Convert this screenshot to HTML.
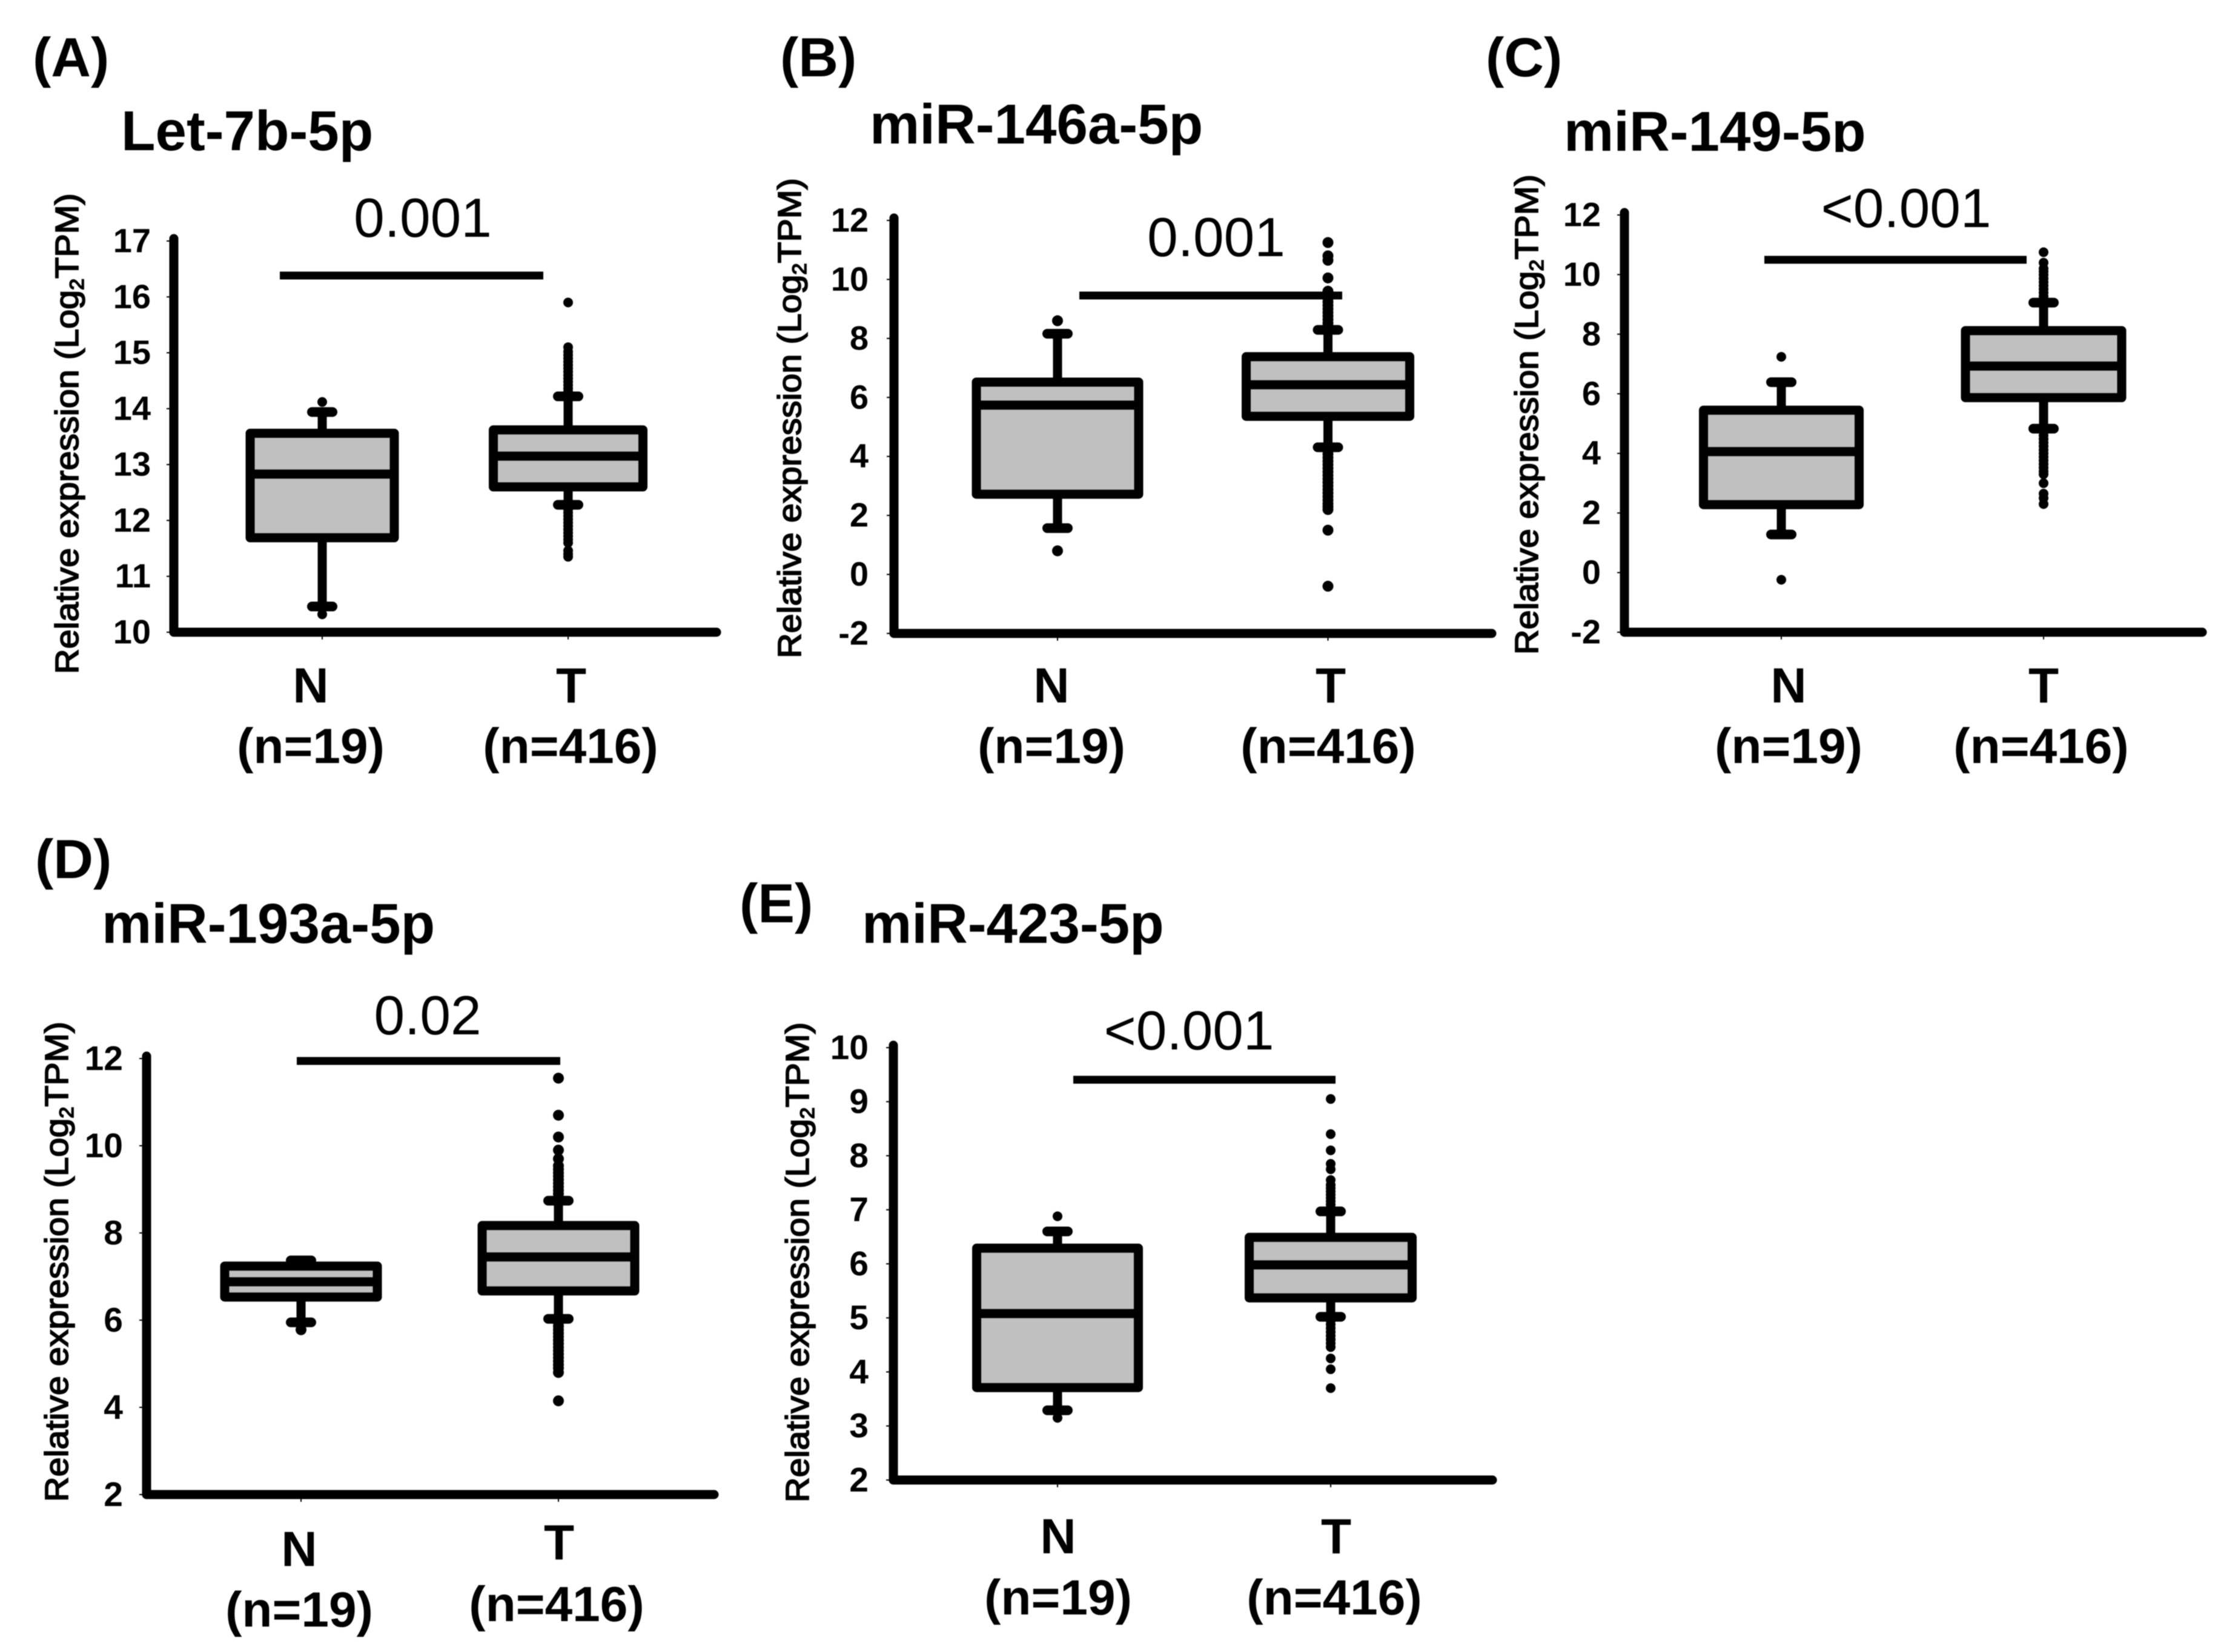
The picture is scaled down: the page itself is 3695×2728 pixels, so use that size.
<!DOCTYPE html>
<html lang="en">
<head>
<meta charset="utf-8">
<title>miRNA relative expression box plots</title>
<style>
html,body{margin:0;padding:0;background:#fff;}
body{width:3695px;height:2728px;overflow:hidden;}
svg{display:block;filter:blur(0.7px);}
text{font-family:"Liberation Sans",Arial,sans-serif;fill:#000;}
.head{font-weight:700;font-size:91px;}
.title{font-weight:700;font-size:92.5px;}
.cat{font-weight:700;font-size:82px;text-anchor:middle;}
.pval{font-size:91px;text-anchor:middle;}
.ylab{stroke:#000;stroke-width:1.8px;font-size:54px;}
</style>
</head>
<body>
<svg id="figure" xmlns="http://www.w3.org/2000/svg" width="3695" height="2728" viewBox="0 0 3695 2728">
<rect width="3695" height="2728" fill="#fff"/>

<g id="panel-a">
<text class="head" x="54" y="126">(A)</text>
<text class="title" x="200" y="248">Let-7b-5p</text>
<text class="ylab" transform="translate(129,1113) rotate(-90) scale(1.067,1)">Relative expression (Log<tspan font-size="32" dy="9">2</tspan><tspan dy="-9">TPM)</tspan></text>
<text class="pval" x="698" y="391">0.001</text>
<text class="cat" x="513" y="1160">N</text>
<text class="cat" x="513" y="1260">(n=19)</text>
<text class="cat" x="943" y="1160">T</text>
<text class="cat" x="942" y="1260">(n=416)</text>
</g>

<g id="panel-b">
<text class="head" x="1288" y="126">(B)</text>
<text class="title" x="1436" y="237">miR-146a-5p</text>
<text class="ylab" transform="translate(1322,1087) rotate(-90) scale(1.066,1)">Relative expression (Log<tspan font-size="32" dy="9">2</tspan><tspan dy="-9">TPM)</tspan></text>
<text class="pval" x="2008" y="423">0.001</text>
<text class="cat" x="1736" y="1160">N</text>
<text class="cat" x="1736" y="1260">(n=19)</text>
<text class="cat" x="2197" y="1160">T</text>
<text class="cat" x="2193" y="1260">(n=416)</text>
</g>

<g id="panel-c">
<text class="head" x="2453" y="126">(C)</text>
<text class="title" x="2582" y="249">miR-149-5p</text>
<rect x="2570" y="251" width="600" height="40" fill="#fff"/>
<text class="ylab" transform="translate(2539,1081) rotate(-90) scale(1.066,1)">Relative expression (Log<tspan font-size="32" dy="9">2</tspan><tspan dy="-9">TPM)</tspan></text>
<text class="pval" x="3147" y="375">&lt;0.001</text>
<text class="cat" x="2953" y="1160">N</text>
<text class="cat" x="2953" y="1260">(n=19)</text>
<text class="cat" x="3374" y="1160">T</text>
<text class="cat" x="3370" y="1260">(n=416)</text>
</g>

<g id="panel-d">
<text class="head" x="58" y="1450">(D)</text>
<text class="title" x="168" y="1557">miR-193a-5p</text>
<text class="ylab" transform="translate(112,2480) rotate(-90) scale(1.066,1)">Relative expression (Log<tspan font-size="32" dy="9">2</tspan><tspan dy="-9">TPM)</tspan></text>
<text class="pval" x="706" y="1708">0.02</text>
<text class="cat" x="494" y="2586">N</text>
<text class="cat" x="494" y="2686">(n=19)</text>
<text class="cat" x="923" y="2575">T</text>
<text class="cat" x="919" y="2677">(n=416)</text>
</g>

<g id="panel-e">
<text class="head" x="1221" y="1523">(E)</text>
<text class="title" x="1423" y="1557">miR-423-5p</text>
<text class="ylab" transform="translate(1335,2481) rotate(-90) scale(1.066,1)">Relative expression (Log<tspan font-size="32" dy="9">2</tspan><tspan dy="-9">TPM)</tspan></text>
<text class="pval" x="1963" y="1733">&lt;0.001</text>
<text class="cat" x="1747" y="2565">N</text>
<text class="cat" x="1747" y="2666">(n=19)</text>
<text class="cat" x="2206" y="2565">T</text>
<text class="cat" x="2203" y="2666">(n=416)</text>
</g>
</svg>

<script>
// Data: order within two-element arrays is [N, T]
const categories = ['N', 'T'];

const ticksA = [10, 11, 12, 13, 14, 15, 16, 17];
const q1A = [11.69, 12.6];
const medianA = [12.83, 13.15];
const q3A = [13.56, 13.62];
const whiskerLowA = [10.46, 12.28];
const whiskerHighA = [13.94, 14.22];
const outliersNA = [14.12, 10.32];
const outliersTA = [14.3, 14.36, 14.42, 14.48, 14.54, 14.6, 14.66, 14.72, 14.78, 14.84, 14.9, 14.96, 15.02, 15.1, 15.9, 12.2, 12.14, 12.08, 12.02, 11.96, 11.9, 11.84, 11.78, 11.72, 11.66, 11.6, 11.46, 11.4, 11.35];

const ticksB = [-2, 0, 2, 4, 6, 8, 10, 12];
const q1B = [2.72, 5.36];
const medianB = [5.74, 6.43];
const q3B = [6.52, 7.38];
const whiskerLowB = [1.57, 4.31];
const whiskerHighB = [8.16, 8.29];
const outliersNB = [8.6, 0.8];
const outliersTB = [8.4, 8.52, 8.64, 8.76, 8.88, 9.0, 9.12, 9.24, 9.36, 9.48, 9.6, 10.05, 10.65, 10.8, 11.25, 4.2, 4.08, 3.96, 3.84, 3.72, 3.6, 3.48, 3.36, 3.24, 3.12, 3.0, 2.88, 2.76, 2.64, 2.52, 2.4, 2.3, 2.2, 1.5, -0.4];

const ticksC = [-2, 0, 2, 4, 6, 8, 10, 12];
const q1C = [2.28, 5.87];
const medianC = [4.06, 6.93];
const q3C = [5.45, 8.12];
const whiskerLowC = [1.28, 4.83];
const whiskerHighC = [6.39, 9.06];
const outliersNC = [7.24, -0.24];
const outliersTC = [9.15, 9.27, 9.39, 9.51, 9.63, 9.75, 9.87, 9.99, 10.1, 10.2, 10.4, 10.75, 4.72, 4.6, 4.48, 4.36, 4.24, 4.12, 4.0, 3.88, 3.76, 3.64, 3.52, 3.4, 3.3, 3.0, 2.65, 2.5, 2.3];

const ticksD = [2, 4, 6, 8, 10, 12];
const q1D = [6.53, 6.67];
const medianD = [6.88, 7.45];
const q3D = [7.24, 8.17];
const whiskerLowD = [5.95, 6.03];
const whiskerHighD = [7.37, 8.74];
const outliersND = [5.78];
const outliersTD = [8.82, 8.9, 8.98, 9.06, 9.14, 9.22, 9.3, 9.38, 9.46, 9.54, 9.7, 9.9, 10.2, 10.7, 11.55, 5.94, 5.86, 5.78, 5.7, 5.62, 5.54, 5.46, 5.38, 5.3, 5.22, 5.14, 5.06, 4.98, 4.9, 4.8, 4.15];

const ticksE = [2, 3, 4, 5, 6, 7, 8, 9, 10];
const q1E = [3.71, 5.37];
const medianE = [5.08, 5.98];
const q3E = [6.29, 6.49];
const whiskerLowE = [3.29, 5.02];
const whiskerHighE = [6.6, 6.97];
const outliersNE = [6.88, 3.15];
const outliersTE = [7.04, 7.1, 7.16, 7.22, 7.28, 7.34, 7.4, 7.46, 7.55, 7.75, 7.85, 8.1, 8.4, 9.05, 4.95, 4.88, 4.81, 4.74, 4.67, 4.6, 4.53, 4.46, 4.25, 4.05, 3.7];

const NS = 'http://www.w3.org/2000/svg';

function make(parent, tag, attrs) {
  const el = document.createElementNS(NS, tag);
  for (const k in attrs) el.setAttribute(k, attrs[k]);
  parent.appendChild(el);
  return el;
}

function drawPanel(p, data) {
  const group = document.getElementById(p.id);
  const yMin = data.ticks[0];
  const yMax = data.ticks[data.ticks.length - 1];
  const yScale = v => p.bottom - (v - yMin) / (yMax - yMin) * (p.bottom - p.top);
  const xScale = i => p.catX[i];

  // y axis line
  const yAxis = make(group, 'line', {x1: p.axisX, x2: p.axisX, y1: p.top - 4, y2: p.bottom, stroke: '#000', 'stroke-width': 15, 'stroke-linecap': 'round'});
  
  

  // x axis line
  const xAxis = make(group, 'line', {x1: p.axisX, x2: p.right - 5, y1: p.bottom, y2: p.bottom, stroke: '#000', 'stroke-width': 15, 'stroke-linecap': 'round'});
  
  

  // y ticks and labels
  data.ticks.forEach(t => {
    const mark = make(group, 'line', {x1: p.axisX - 12, x2: p.axisX, y1: yScale(t), y2: yScale(t), stroke: '#000', 'stroke-width': 2});
    
    
    const label = make(group, 'text', {x: p.tickRight + 2, y: yScale(t) + p.tickFont * 0.33, 'text-anchor': 'end', 'font-weight': 700, 'font-size': p.tickFont});
    label.textContent = t;
    
    
  });

  // significance bar
  const sig = make(group, 'line', {x1: p.sig[0], x2: p.sig[1], y1: p.sig[2], y2: p.sig[2], stroke: '#000', 'stroke-width': 13});
  
  

  categories.forEach((cat, i) => {
    const cx = xScale(i);
    const name = cat.toLowerCase();

    const xTick = make(group, 'line', {x1: cx, x2: cx, y1: p.bottom, y2: p.bottom + 12, stroke: '#000', 'stroke-width': 2});
    
    

    // outliers first so that whiskers and box sit on top
    const outliers = i === 0 ? data.outliersN : data.outliersT;
    outliers.forEach(v => {
      const dot = make(group, 'circle', {cx: cx, cy: yScale(v), r: p.dot, fill: '#000'});
      
      
    });

    const whisker = make(group, 'line', {x1: cx, x2: cx, y1: yScale(data.whiskerLow[i]), y2: yScale(data.whiskerHigh[i]), stroke: '#000', 'stroke-width': 15});
    
    

    const capHigh = make(group, 'line', {x1: cx - 17, x2: cx + 17, y1: yScale(data.whiskerHigh[i]), y2: yScale(data.whiskerHigh[i]), stroke: '#000', 'stroke-width': 16, 'stroke-linecap': 'round'});
    
    

    const capLow = make(group, 'line', {x1: cx - 17, x2: cx + 17, y1: yScale(data.whiskerLow[i]), y2: yScale(data.whiskerLow[i]), stroke: '#000', 'stroke-width': 16, 'stroke-linecap': 'round'});
    
    

    const box = make(group, 'rect', {x: cx - p.halfW[i], width: 2 * p.halfW[i], y: yScale(data.q3[i]), height: yScale(data.q1[i]) - yScale(data.q3[i]), fill: '#c0c0c0', stroke: '#000', 'stroke-width': 15, 'stroke-linejoin': 'round'});
    
    

    const median = make(group, 'line', {x1: cx - p.halfW[i], x2: cx + p.halfW[i], y1: yScale(data.median[i]), y2: yScale(data.median[i]), stroke: '#000', 'stroke-width': 15});
    
    
  });
}

drawPanel(
  {id: 'panel-a', axisX: 287, right: 1188, top: 398, bottom: 1044, catX: [532, 938], halfW: [119, 123.5], tickRight: 247, tickFont: 56, dot: 8, sig: [462, 897, 455]},
  {ticks: ticksA, q1: q1A, median: medianA, q3: q3A, whiskerLow: whiskerLowA, whiskerHigh: whiskerHighA, outliersN: outliersNA, outliersT: outliersTA}
);
drawPanel(
  {id: 'panel-b', axisX: 1476, right: 2468, top: 364, bottom: 1046, catX: [1746, 2192.5], halfW: [134, 135], tickRight: 1432, tickFont: 56, dot: 9, sig: [1782, 2216, 488]},
  {ticks: ticksB, q1: q1B, median: medianB, q3: q3B, whiskerLow: whiskerLowB, whiskerHigh: whiskerHighB, outliersN: outliersNB, outliersT: outliersTB}
);
drawPanel(
  {id: 'panel-c', axisX: 2682, right: 3641, top: 355, bottom: 1044, catX: [2941, 3374], halfW: [128.5, 129], tickRight: 2641, tickFont: 56, dot: 8, sig: [2913, 3346, 429]},
  {ticks: ticksC, q1: q1C, median: medianC, q3: q3C, whiskerLow: whiskerLowC, whiskerHigh: whiskerHighC, outliersN: outliersNC, outliersT: outliersTC}
);
drawPanel(
  {id: 'panel-d', axisX: 242, right: 1184, top: 1748, bottom: 2468, catX: [497, 922], halfW: [126, 126], tickRight: 201, tickFont: 57, dot: 9, sig: [490, 925, 1752]},
  {ticks: ticksD, q1: q1D, median: medianD, q3: q3D, whiskerLow: whiskerLowD, whiskerHigh: whiskerHighD, outliersN: outliersND, outliersT: outliersTD}
);
drawPanel(
  {id: 'panel-e', axisX: 1475, right: 2469, top: 1730, bottom: 2444, catX: [1746, 2197], halfW: [133.5, 134.5], tickRight: 1432, tickFont: 57, dot: 8, sig: [1772, 2205, 1783]},
  {ticks: ticksE, q1: q1E, median: medianE, q3: q3E, whiskerLow: whiskerLowE, whiskerHigh: whiskerHighE, outliersN: outliersNE, outliersT: outliersTE}
);
</script>
</body>
</html>
